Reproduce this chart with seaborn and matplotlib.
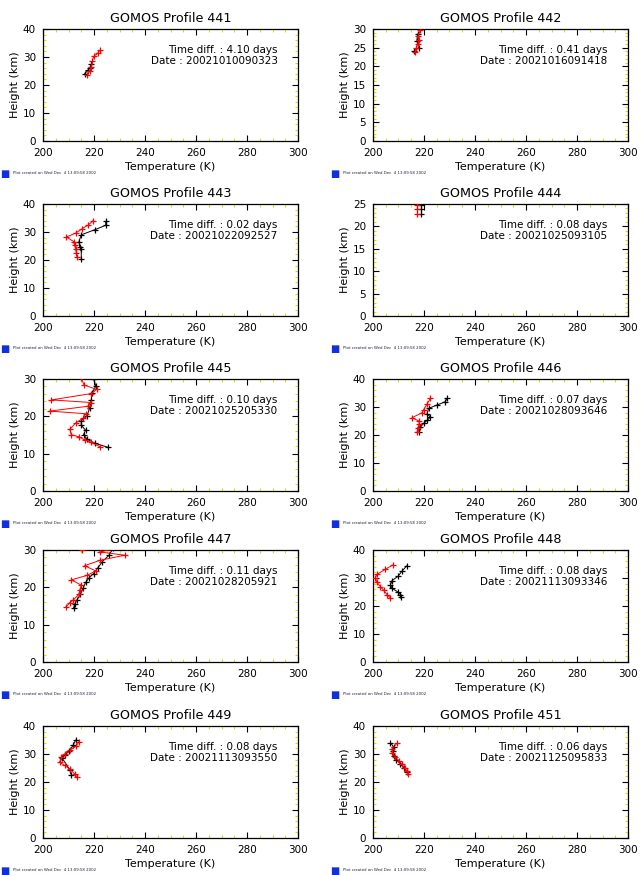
import numpy as np
import pandas as pd
import matplotlib.pyplot as plt
import seaborn as sns

# profile ids, time differences and dates
profiles = [441, 442, 443, 444, 445, 446, 447, 448, 449, 451]
time_diff = ['4.10', '0.41', '0.02', '0.08', '0.10', '0.07', '0.11', '0.08', '0.08', '0.06']
dates = ['20021010090323', '20021016091418', '20021022092527', '20021025093105',
         '20021025205330', '20021028093646', '20021028205921', '20021113093346',
         '20021113093550', '20021125095833']
y_top = [40, 30, 40, 25, 30, 40, 30, 40, 40, 40]
y_step = [10, 5, 10, 5, 10, 10, 10, 10, 10, 10]

# black = reference profile, red = GOMOS profile (temperature K, height km)
t441_black = [216.3, 217.6, 218.4, 219.0]
h441_black = [24.0, 25.2, 26.2, 27.5]
t441_red = [217.3, 218.3, 219.0, 219.3, 219.9, 221.6, 222.2]
h441_red = [23.6, 25.0, 26.6, 28.4, 30.2, 31.4, 32.4]

t442_black = [216.0, 218.0, 217.2, 217.5]
h442_black = [24.0, 25.0, 26.8, 28.7]
t442_red = [216.5, 217.0, 217.5, 218.0, 217.8, 218.5]
h442_red = [23.8, 25.0, 26.0, 27.0, 28.2, 29.6]

t443_black = [224.6, 224.6, 220.3, 215.0, 214.1, 214.4, 215.0, 215.0]
h443_black = [33.8, 32.4, 30.8, 29.0, 26.6, 24.8, 24.0, 20.4]
t443_red = [219.6, 217.6, 215.4, 212.8, 209.2, 212.0, 212.4, 212.8, 213.1, 213.5]
h443_red = [34.0, 32.4, 31.2, 29.6, 28.2, 26.6, 25.2, 24.0, 22.4, 20.9]

t444_black = [218.8, 218.8, 218.8]
h444_black = [22.8, 23.8, 24.8]
t444_red = [217.3, 217.3, 217.3]
h444_red = [22.8, 23.8, 24.8]

t445_black = [219.9, 220.7, 219.3, 218.9, 218.3, 217.3, 215.0, 215.0, 216.7, 215.9, 217.3, 220.3, 225.5]
h445_black = [30.0, 28.1, 26.3, 24.4, 22.3, 20.2, 18.8, 17.6, 16.3, 15.1, 13.9, 12.8, 11.7]
t445_red = [215.0, 216.1, 221.0, 219.0, 203.3, 219.0, 217.6, 202.6, 216.7, 215.7,
            212.8, 210.5, 211.1, 214.1, 216.3, 219.0, 222.2]
h445_red = [30.3, 28.4, 27.2, 26.1, 24.4, 23.7, 22.7, 21.4, 20.7, 19.5,
            18.2, 16.5, 15.1, 14.5, 13.7, 13.0, 11.9]

t446_black = [229.0, 228.4, 225.1, 221.8, 221.2, 222.5, 221.2, 219.9, 218.6, 218.0]
h446_black = [33.1, 31.9, 30.7, 29.5, 27.6, 26.4, 25.2, 24.2, 22.8, 21.0]
t446_red = [222.5, 221.2, 219.9, 219.2, 215.3, 218.0, 218.2, 217.6, 217.3]
h446_red = [33.1, 31.0, 29.1, 27.9, 26.2, 25.0, 23.8, 22.5, 21.0]

t447_black = [227.5, 225.9, 223.3, 221.6, 219.9, 218.0, 216.7, 215.7, 214.6, 213.3, 212.4, 212.0]
h447_black = [30.5, 28.6, 26.9, 25.3, 23.7, 22.5, 21.3, 19.7, 18.1, 16.6, 15.5, 14.5]
t447_red = [215.4, 233.0, 222.2, 232.0, 222.2, 216.3, 220.7, 217.3, 211.1, 215.0,
            214.4, 214.1, 211.8, 210.5, 208.9]
h447_red = [30.0, 30.9, 29.5, 28.6, 27.2, 25.8, 24.4, 23.2, 22.0, 20.6,
            19.2, 18.1, 16.6, 15.9, 14.7]

t448_black = [213.3, 211.4, 209.8, 207.5, 206.8, 207.5, 209.8, 210.7, 211.0]
h448_black = [34.4, 32.5, 30.6, 29.1, 27.5, 26.3, 25.0, 24.1, 23.1]
t448_red = [207.7, 204.8, 201.6, 200.9, 201.6, 202.9, 204.2, 205.5, 206.8]
h448_red = [34.6, 33.1, 31.3, 30.0, 28.4, 26.9, 25.6, 24.1, 22.9]

t449_black = [212.8, 211.8, 210.2, 208.5, 207.6, 210.5, 211.1]
h449_black = [35.0, 33.1, 30.9, 29.6, 28.4, 24.4, 22.5]
t449_red = [214.1, 213.1, 210.5, 208.5, 207.2, 206.5, 208.5, 210.5, 212.4, 213.3]
h449_red = [34.4, 32.9, 31.3, 30.0, 28.8, 27.1, 25.9, 24.6, 22.9, 21.9]

t451_black = [206.8, 208.1, 207.7, 208.1, 209.0, 210.7, 212.0, 213.3]
h451_black = [34.1, 32.5, 30.9, 29.4, 27.9, 26.6, 25.0, 23.4]
t451_red = [209.4, 207.5, 207.5, 208.8, 210.3, 211.4, 212.4, 213.3, 213.7]
h451_red = [33.8, 31.9, 30.4, 28.8, 27.5, 26.3, 25.0, 23.8, 22.9]

black_t = [t441_black, t442_black, t443_black, t444_black, t445_black,
           t446_black, t447_black, t448_black, t449_black, t451_black]
black_h = [h441_black, h442_black, h443_black, h444_black, h445_black,
           h446_black, h447_black, h448_black, h449_black, h451_black]
red_t = [t441_red, t442_red, t443_red, t444_red, t445_red,
         t446_red, t447_red, t448_red, t449_red, t451_red]
red_h = [h441_red, h442_red, h443_red, h444_red, h445_red,
         h446_red, h447_red, h448_red, h449_red, h451_red]

sns.set_style('white')
plt.rcParams['font.family'] = ['DejaVu Sans']
plt.rcParams['text.color'] = 'black'
plt.rcParams['axes.labelcolor'] = 'black'
plt.rcParams['xtick.labelcolor'] = 'black'
plt.rcParams['ytick.labelcolor'] = 'black'

W, H = 644, 875
fig = plt.figure(figsize=(W / 100, H / 100), dpi=100)

col_left = [43, 373]
row_top = [29, 204, 379, 550, 726]
ax_w, ax_h = 255, 112

for i, pid in enumerate(profiles):
    r, c = divmod(i, 2)
    x0 = col_left[c]
    y0 = row_top[r]
    ax = fig.add_axes([x0 / W, 1 - (y0 + ax_h) / H, ax_w / W, ax_h / H])

    dfb = pd.DataFrame({'T': black_t[i], 'h': black_h[i]})
    dfr = pd.DataFrame({'T': red_t[i], 'h': red_h[i]})
    sns.lineplot(data=dfb, x='T', y='h', sort=False, estimator=None, color='black',
                 marker='+', markersize=5, mew=0.9, mec='black', lw=0.7, ax=ax,
                 zorder=3, clip_on=True)
    sns.lineplot(data=dfr, x='T', y='h', sort=False, estimator=None, color='red',
                 marker='+', markersize=5, mew=0.9, mec='red', lw=0.7, ax=ax,
                 zorder=4, clip_on=True)

    ax.set_xlim(200, 300)
    ax.set_ylim(0, y_top[i])
    ax.set_xticks(np.arange(200, 301, 20))
    ax.set_yticks(np.arange(0, y_top[i] + 1, y_step[i]))
    ax.set_xticks(np.arange(200, 301, 5), minor=True)
    ax.set_yticks(np.arange(0, y_top[i] + 0.1, y_step[i] / 5), minor=True)
    ax.tick_params(which='major', direction='in', length=4, width=0.8,
                   bottom=True, left=True, top=True, right=True,
                   labelsize=7.5, color='black', pad=5)
    ax.tick_params(which='minor', direction='in', length=2, width=0.8,
                   bottom=True, left=True, top=True, right=True, color='#e0e000')
    for s in ax.spines.values():
        s.set_linewidth(0.9)
        s.set_color('black')

    ax.set_title(f'GOMOS Profile {pid}', fontsize=9.2, pad=5)
    ax.set_xlabel('Temperature (K)', fontsize=8, labelpad=3)
    ax.set_ylabel('Height (km)', fontsize=8, labelpad=2)
    ax.text(0.92, 0.81, f'Time diff. : {time_diff[i]} days', transform=ax.transAxes,
            ha='right', va='center', fontsize=7.5)
    ax.text(0.92, 0.71, f'Date : {dates[i]}', transform=ax.transAxes,
            ha='right', va='center', fontsize=7.5)

    # small logo and creation stamp under each panel
    lx = (x0 - 43) / W
    ly = 1 - (y0 + 140) / H
    fig.text(lx, ly, '\u25A0', color='#1030e0', fontsize=7, va='top', ha='left')
    fig.text(lx + 13 / W, 1 - (y0 + 144) / H, 'Plot created on Wed Dec  4 13:09:58 2002',
             fontsize=2.8, color='#202040', va='center', ha='left')

fig.savefig('out.png', dpi=100)
